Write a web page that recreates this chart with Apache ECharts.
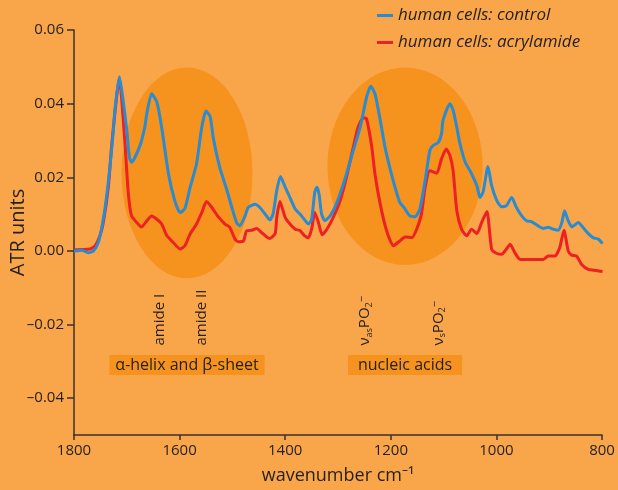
<!DOCTYPE html>
<html><head><meta charset="utf-8">
<script src="https://cdn.jsdelivr.net/npm/echarts@6/dist/echarts.min.js"></script>
<style>html,body{margin:0;padding:0;background:#F9A64A}#c{width:618px;height:490px}</style>
</head><body><div id="c"></div>
<script>
// ---- data ----
const seriesNames = ['human cells: control', 'human cells: acrylamide'];
const yTickValues = [-0.04, -0.02, 0, 0.02, 0.04, 0.06];

const wnControl = [1800,1785,1773,1763,1754,1748,1741,1732,1726,1722,1714,1707,1700,1695,1691,1675,1666,1662,1653,1643,1634,1621,1609,1599,1590,1580,1568,1558,1550,1542,1536,1524,1511,1501,1492,1486,1476,1470,1457,1448,1438,1429,1423,1416,1409,1400,1391,1381,1372,1363,1356,1350,1344,1340,1336,1331,1325,1315,1306,1296,1284,1271,1258,1248,1244,1238,1230,1220,1211,1202,1192,1183,1175,1164,1154,1145,1135,1126,1120,1110,1104,1101,1088,1082,1075,1069,1059,1050,1037,1031,1025,1016,1009,999,990,981,971,962,952,943,933,921,911,902,892,883,876,871,864,857,845,835,826,817,807,799];
const atrControl = [0.0000,0.0002,-0.0005,0.0000,0.0023,0.0059,0.0118,0.0227,0.0318,0.0391,0.0473,0.0409,0.0327,0.0254,0.0241,0.0286,0.0336,0.0374,0.0427,0.0404,0.0336,0.0209,0.0136,0.0104,0.0115,0.0173,0.0236,0.0336,0.0380,0.0364,0.0305,0.0227,0.0168,0.0118,0.0077,0.0068,0.0095,0.0118,0.0127,0.0118,0.0100,0.0084,0.0100,0.0164,0.0202,0.0173,0.0145,0.0114,0.0100,0.0084,0.0073,0.0086,0.0159,0.0173,0.0155,0.0100,0.0082,0.0095,0.0118,0.0155,0.0209,0.0273,0.0336,0.0404,0.0427,0.0447,0.0427,0.0355,0.0282,0.0227,0.0173,0.0132,0.0118,0.0095,0.0093,0.0114,0.0191,0.0273,0.0286,0.0295,0.0318,0.0355,0.0400,0.0382,0.0336,0.0291,0.0241,0.0218,0.0177,0.0145,0.0161,0.0229,0.0177,0.0136,0.0120,0.0123,0.0145,0.0118,0.0095,0.0082,0.0079,0.0068,0.0061,0.0064,0.0059,0.0056,0.0077,0.0109,0.0082,0.0065,0.0077,0.0062,0.0047,0.0036,0.0032,0.0020];

const wnAcryl = [1798,1770,1760,1751,1745,1735,1729,1722,1714,1710,1703,1697,1691,1681,1672,1662,1653,1643,1634,1624,1612,1599,1590,1580,1568,1558,1549,1539,1527,1514,1505,1495,1489,1479,1473,1463,1454,1445,1435,1429,1419,1416,1410,1400,1391,1381,1372,1363,1356,1350,1344,1337,1330,1321,1309,1296,1284,1271,1262,1252,1246,1236,1230,1220,1208,1195,1183,1173,1160,1151,1142,1135,1126,1113,1104,1095,1088,1082,1075,1066,1056,1047,1037,1028,1018,1009,999,990,981,974,965,955,911,902,889,880,872,864,858,848,839,826,810,799];
const atrAcryl = [0.0003,0.0005,0.0014,0.0041,0.0073,0.0173,0.0282,0.0382,0.0469,0.0418,0.0282,0.0155,0.0095,0.0077,0.0065,0.0082,0.0095,0.0086,0.0073,0.0041,0.0023,0.0005,0.0014,0.0046,0.0073,0.0104,0.0134,0.0118,0.0093,0.0073,0.0064,0.0032,0.0025,0.0027,0.0055,0.0056,0.0061,0.0050,0.0038,0.0034,0.0047,0.0091,0.0134,0.0091,0.0073,0.0059,0.0055,0.0041,0.0036,0.0059,0.0104,0.0077,0.0044,0.0059,0.0091,0.0136,0.0200,0.0282,0.0336,0.0362,0.0359,0.0282,0.0209,0.0127,0.0055,0.0014,0.0027,0.0038,0.0036,0.0059,0.0100,0.0173,0.0218,0.0211,0.0250,0.0277,0.0259,0.0218,0.0109,0.0059,0.0041,0.0059,0.0047,0.0077,0.0107,0.0005,-0.0007,-0.0009,0.0005,0.0018,-0.0005,-0.0023,-0.0023,-0.0014,-0.0014,0.0009,0.0056,0.0000,-0.0011,-0.0014,-0.0036,-0.0050,-0.0053,-0.0056];

// annotation texts and their anchor wavenumbers
const bandLabels = ['amide I', 'amide II', 'νasPO2−', 'νsPO2−'];
const bandWavenumbers = [1637, 1558, 1249, 1110];
const regionLabels = ['α-helix and β-sheet', 'nucleic acids'];
const regionCenters = [1586, 1173];

// ---- chart ----
const FONT = '"Open Sans", "Noto Sans", sans-serif';
const TXT = '#231f20';
const AX = '#3a3030';
const chart = echarts.init(document.getElementById('c'), null, {renderer: 'canvas'});
const zip = (a, b) => a.map((v, i) => [v, b[i]]);
const fmtY = v => (v < 0 ? '\u2013' : '') + Math.abs(v).toFixed(2);

chart.setOption({
  backgroundColor: '#F9A64A',
  animation: false,
  grid: {left: 74, right: 16, top: 30, bottom: 55, containLabel: false, outerBoundsMode: 'none'},
  legend: {
    data: seriesNames, orient: 'vertical', left: 377, top: 6, padding: 0,
    itemWidth: 16, itemHeight: 3, itemGap: 8, icon: 'rect',
    textStyle: {fontFamily: FONT, fontStyle: 'italic', fontSize: 17, color: TXT, lineHeight: 19}
  },
  xAxis: {
    type: 'value', inverse: true, min: 800, max: 1800, interval: 200,
    name: 'wavenumber cm\u207B\u00B9', nameLocation: 'middle', nameGap: 32, nameMoveOverlap: false,
    nameTextStyle: {fontFamily: FONT, fontSize: 18, color: TXT},
    axisLine: {onZero: false, lineStyle: {color: AX, width: 1.5}},
    axisTick: {length: 5, lineStyle: {color: AX, width: 1.5}},
    axisLabel: {fontFamily: FONT, fontSize: 15, color: TXT, margin: 8, formatter: v => String(v)},
    splitLine: {show: false}
  },
  yAxis: {
    type: 'value', min: -0.05, max: 0.06,
    name: 'ATR units', nameLocation: 'middle', nameGap: 46, nameRotate: 90, nameMoveOverlap: false,
    nameTextStyle: {fontFamily: FONT, fontSize: 20, color: TXT},
    axisLine: {show: true, onZero: false, lineStyle: {color: AX, width: 1.5}},
    axisTick: {show: true, length: 7, customValues: yTickValues, lineStyle: {color: AX, width: 1.5}},
    axisLabel: {fontFamily: FONT, fontSize: 15, color: TXT, margin: 10, customValues: yTickValues, formatter: fmtY},
    splitLine: {show: false}
  },
  series: [
    {name: seriesNames[1], type: 'line', data: zip(wnAcryl, atrAcryl), showSymbol: false, smooth: 0.2,
     lineStyle: {color: '#ED2024', width: 3}, itemStyle: {color: '#ED2024'}, z: 3},
    {name: seriesNames[0], type: 'line', data: zip(wnControl, atrControl), showSymbol: false, smooth: 0.2,
     lineStyle: {color: '#2A8BCF', width: 3}, itemStyle: {color: '#2A8BCF'}, z: 4}
  ]
});

// ---- decorations positioned through the axes ----
const P = (w, v) => chart.convertToPixel({gridIndex: 0}, [w, v]);
function ellipse(w, v, dw, dv) {
  const c = P(w, v), e = P(w - dw, v + dv);
  const rx = Math.abs(e[0] - c[0]), ry = Math.abs(e[1] - c[1]);
  return {type: 'circle', x: c[0], y: c[1], scaleX: rx / ry, scaleY: 1,
          shape: {cx: 0, cy: 0, r: ry}, style: {fill: '#F6921E'}, z: 1, silent: true};
}
const graphics = [
  ellipse(regionCenters[0], 0.0212, 124, 0.0286),
  ellipse(regionCenters[1], 0.0230, 147, 0.0268)
];
const richBand = {
  n: {fontFamily: FONT, fontSize: 15, color: TXT, lineHeight: 18},
  sub: {fontFamily: FONT, fontSize: 9, color: TXT, lineHeight: 12, verticalAlign: 'bottom'},
  sup: {fontFamily: FONT, fontSize: 11, color: TXT, lineHeight: 12, verticalAlign: 'top'}
};
const bandRich = [
  '{n|amide I}', '{n|amide II}',
  '{n|ν}{sub|as}{n|PO}{sub|2}{sup|−}',
  '{n|ν}{sub|s}{n|PO}{sub|2}{sup|−}'
];
bandWavenumbers.forEach((w, i) => {
  const p = P(w, -0.0257);
  graphics.push({type: 'text', x: p[0], y: p[1], rotation: Math.PI / 2, z: 5,
    style: {text: bandRich[i], rich: richBand, align: 'left', verticalAlign: 'middle',
            fontFamily: FONT, fontSize: 15, fill: TXT}});
});
regionLabels.forEach((t, i) => {
  const p = P(regionCenters[i], -0.0310);
  graphics.push({type: 'text', x: p[0], y: p[1], z: 5,
    style: {text: t, align: 'center', verticalAlign: 'middle', fontFamily: FONT, fontSize: 16,
            fill: TXT, backgroundColor: '#F6921E', padding: i === 0 ? [2, 6, 2, 6] : [2, 10, 2, 10]}});
});
chart.setOption({graphic: graphics});
</script></body></html>
